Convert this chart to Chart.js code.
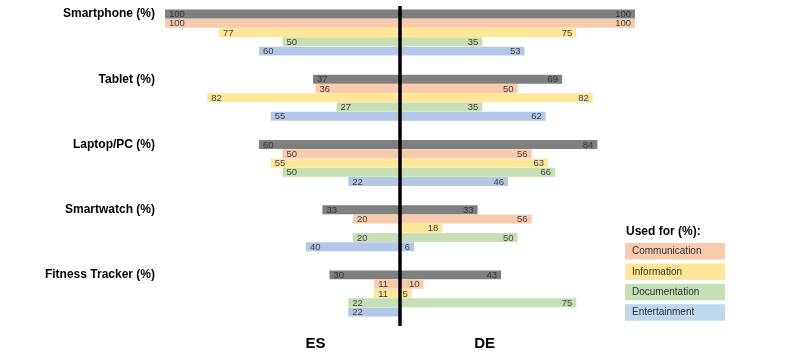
<!DOCTYPE html>
<html>
<head>
<meta charset="utf-8">
<script src="https://cdn.jsdelivr.net/npm/chart.js@4"></script>
<style>
  html, body { margin: 0; padding: 0; background: #fff; }
  #wrap { width: 800px; height: 355px; }
</style>
</head>
<body>
<div id="wrap"><canvas id="chart" width="800" height="355"></canvas></div>
<script>
/* ---------- Data ---------- */
const CATEGORIES = ["Smartphone (%)", "Tablet (%)", "Laptop/PC (%)", "Smartwatch (%)", "Fitness Tracker (%)"];
const SERIES = ["Overall", "Communication", "Information", "Documentation", "Entertainment"];
const LEGEND_TITLE = "Used for (%):";
const SIDE_LABELS = ["ES", "DE"];

// ES (left side)
const ES_OVERALL = [100, 37, 60, 33, 30];
const ES_COMM    = [100, 36, 50, 20, 11];
const ES_INFO    = [77, 82, 55, 0, 11];
const ES_DOC     = [50, 27, 50, 20, 22];
const ES_ENT     = [60, 55, 22, 40, 22];

// DE (right side)
const DE_OVERALL = [100, 69, 84, 33, 43];
const DE_COMM    = [100, 50, 56, 56, 10];
const DE_INFO    = [75, 82, 63, 18, 5];
const DE_DOC     = [35, 35, 66, 50, 75];
const DE_ENT     = [53, 62, 46, 6, 0];

const ES_VALUES = [ES_OVERALL, ES_COMM, ES_INFO, ES_DOC, ES_ENT];
const DE_VALUES = [DE_OVERALL, DE_COMM, DE_INFO, DE_DOC, DE_ENT];

/* ---------- Styles ---------- */
const COLORS = ["#7f7f7f", "#f8cbad", "#ffe699", "#c5e0b4", "#b4c7e7"];
const LEGEND_COLORS = [null, "#f8cbad", "#ffe699", "#c5e0b4", "#bdd7ee"];
const TEXT_COLORS = ["#333333", "#404040", "#404040", "#404040", "#404040"];
const FONT = "'Liberation Sans', Arial, sans-serif";

/* ---------- Plugins ---------- */
const butterflyDecor = {
  id: "butterflyDecor",
  afterDatasetsDraw(chart) {
    const ctx = chart.ctx;
    const xs = chart.scales.x;
    ctx.save();

    // value labels
    ctx.font = "9.5px " + FONT;
    ctx.textBaseline = "middle";
    chart.data.datasets.forEach((ds, di) => {
      const meta = chart.getDatasetMeta(di);
      meta.data.forEach((bar, i) => {
        const es = ES_VALUES[di][i];
        const de = DE_VALUES[di][i];
        ctx.fillStyle = TEXT_COLORS[di];
        if (es > 0) {
          ctx.textAlign = "left";
          ctx.fillText(String(es), xs.getPixelForValue(-es) + 4, bar.y + 0.5);
        }
        if (de > 0) {
          ctx.textAlign = "right";
          ctx.fillText(String(de), xs.getPixelForValue(de) - 4, bar.y + 0.5);
        }
      });
    });

    // category labels, aligned to the first bar of each group
    ctx.font = "bold 12px " + FONT;
    ctx.fillStyle = "#000";
    ctx.textAlign = "right";
    const first = chart.getDatasetMeta(0);
    CATEGORIES.forEach((c, i) => {
      ctx.fillText(c, 155, first.data[i].y);
    });

    // centre line
    const x0 = xs.getPixelForValue(0);
    ctx.strokeStyle = "#000";
    ctx.lineWidth = 3.5;
    ctx.beginPath();
    ctx.moveTo(x0, 6);
    ctx.lineTo(x0, 326);
    ctx.stroke();

    // side labels
    ctx.font = "bold 15px " + FONT;
    ctx.textAlign = "center";
    ctx.fillText(SIDE_LABELS[0], xs.getPixelForValue(-36), 344);
    ctx.fillText(SIDE_LABELS[1], xs.getPixelForValue(36), 344);

    // legend
    ctx.textAlign = "left";
    ctx.font = "bold 12px " + FONT;
    ctx.fillText(LEGEND_TITLE, 626, 232);
    ctx.font = "10px " + FONT;
    let y = 243;
    SERIES.forEach((s, i) => {
      if (!LEGEND_COLORS[i]) return;
      ctx.fillStyle = LEGEND_COLORS[i];
      ctx.fillRect(625, y, 100, 16.5);
      ctx.fillStyle = "#333";
      ctx.fillText(s, 632, y + 8.5);
      y += 20.4;
    });

    ctx.restore();
  }
};

/* ---------- Chart ---------- */
new Chart(document.getElementById("chart"), {
  type: "bar",
  data: {
    labels: CATEGORIES,
    datasets: SERIES.map((s, k) => ({
      label: s,
      data: ES_VALUES[k].map((v, i) => [-v, DE_VALUES[k][i]]),
      backgroundColor: COLORS[k],
      borderWidth: 0,
      categoryPercentage: 0.71,
      barPercentage: 0.97
    }))
  },
  options: {
    indexAxis: "y",
    responsive: false,
    animation: false,
    layout: { padding: { left: 165, right: 165, top: -3, bottom: 29 } },
    plugins: {
      legend: { display: false },
      tooltip: { enabled: false }
    },
    scales: {
      x: { min: -100, max: 100, display: false },
      y: { display: false }
    }
  },
  plugins: [butterflyDecor]
});
</script>
</body>
</html>
